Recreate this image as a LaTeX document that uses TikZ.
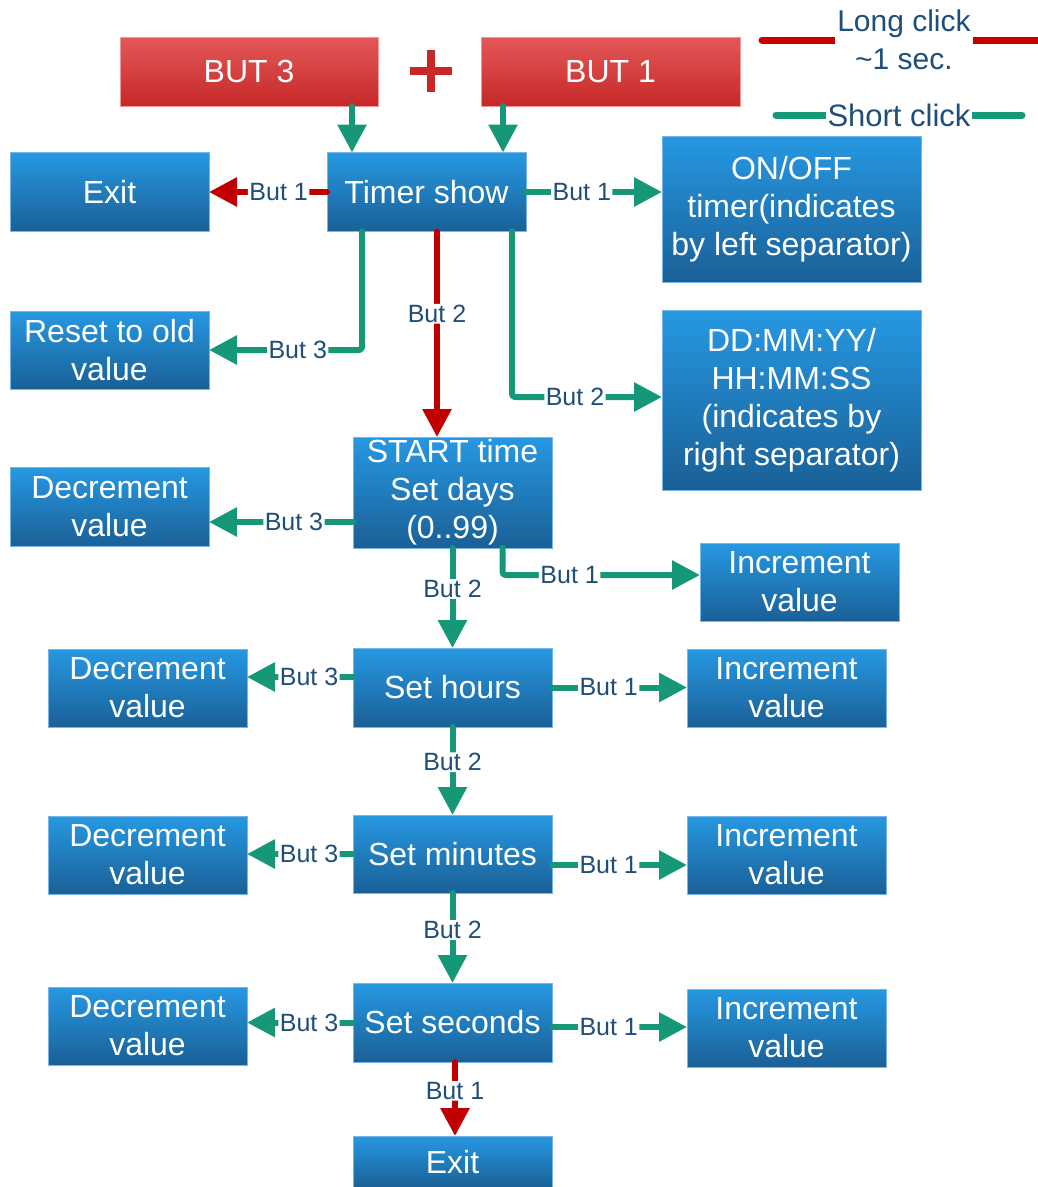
\documentclass[tikz,border=0pt]{standalone}
\usepackage{fontspec}
\setmainfont{Liberation Sans}
\usetikzlibrary{arrows.meta}
\definecolor{bluetop}{RGB}{38,152,226}
\definecolor{bluebot}{RGB}{26,96,150}
\definecolor{blueedge}{RGB}{120,182,232}
\definecolor{redtop}{RGB}{228,88,88}
\definecolor{redbot}{RGB}{198,40,40}
\definecolor{rededge}{RGB}{240,150,150}
\definecolor{greenc}{RGB}{22,152,120}
\definecolor{redc}{RGB}{192,0,0}
\definecolor{plusred}{RGB}{200,40,40}
\definecolor{lblblue}{RGB}{31,78,121}
\tikzset{
  box/.style={rectangle, inner sep=0pt, outer sep=0pt, minimum width=199pt, minimum height=78pt,
    top color=bluetop, bottom color=bluebot, draw=blueedge, line width=0.7pt,
    text=white, font=\fontsize{32}{38}\selectfont, align=center},
  redbox/.style={box, top color=redtop, bottom color=redbot, draw=rededge},
  lbl/.style={fill=white, inner xsep=1.5pt, inner ysep=1pt, text=lblblue, font=\fontsize{25}{28}\selectfont},
  garrow/.style={draw=greenc, line width=6pt, line cap=round, line join=round, rounded corners=3pt,
    -{Triangle[length=28pt,width=28pt]}},
  rarrow/.style={garrow, draw=redc},
  legline/.style={line width=7pt, line cap=round},
  legtext/.style={fill=white, inner xsep=2pt, inner ysep=0pt, text=lblblue, align=center,
    font=\fontsize{30}{38}\selectfont}
}
\begin{document}
\begin{tikzpicture}[x=1pt,y=-1pt]
\useasboundingbox (0,0) rectangle (1038,1187);

% top buttons
\node[redbox, minimum width=258pt, minimum height=69pt] (but3) at (249,71.5) {BUT 3};
\node[redbox, minimum width=259pt, minimum height=69pt] (but1) at (610.5,71.5) {BUT 1};
\draw[plusred, line width=8pt] (410,71) -- (452,71) (431,50) -- (431,92);

% legend
\coordinate (lr1) at (762,40);
\coordinate (lr2) at (1046,40);
\draw[legline, redc!80!red] (lr1) -- node[legtext] (legL) {Long click\\\textasciitilde1 sec.} (lr2);
\coordinate (lg1) at (776,115);
\coordinate (lg2) at (1022,115);
\draw[legline, greenc] (lg1) -- node[legtext, font=\fontsize{31}{38}\selectfont] (legS) {Short click} (lg2);

% boxes
\node[box, minimum height=79pt] (th) at (426.5,192) {Timer show};
\node[box, minimum height=79pt] (exit1) at (109.5,192) {Exit};
\node[box, minimum width=259pt, minimum height=146pt] (onoff) at (791.5,209) {ON/OFF\\timer(indicates\\by left separator)};
\node[box] (reset) at (109.5,350) {Reset to old\\value};
\node[box, minimum width=259pt, minimum height=180pt] (dd) at (791.5,400) {DD:MM:YY/\\HH:MM:SS\\(indicates by\\right separator)};
\node[box, minimum height=111pt] (start) at (452.5,492.5) {START time\\Set days\\(0..99)};
\node[box, minimum height=79pt] (dec1) at (109.5,507) {Decrement\\value};
\node[box] (inc1) at (799.5,582) {Increment\\value};
\node[box, minimum height=79pt] (sethours) at (452.5,687.5) {Set hours};
\node[box] (dec2) at (147.5,688) {Decrement\\value};
\node[box] (inc2) at (786.5,688) {Increment\\value};
\node[box] (setmin) at (452.5,854) {Set minutes};
\node[box] (dec3) at (147.5,855) {Decrement\\value};
\node[box] (inc3) at (786.5,855) {Increment\\value};
\node[box, minimum height=79pt] (setsec) at (452.5,1022.5) {Set seconds};
\node[box] (dec4) at (147.5,1026) {Decrement\\value};
\node[box] (inc4) at (786.5,1028) {Increment\\value};
\node[box, minimum height=52pt] (exit2) at (452.5,1162) {Exit};

% connectors
\draw[garrow] ([xshift=-26pt]but3.south east) -- ([xshift=-26pt]but3.south east |- th.north);
\draw[garrow] ([xshift=22pt]but1.south west) -- ([xshift=22pt]but1.south west |- th.north);

\draw[rarrow] (th.west) -- node[lbl, pos=0.41] {But 1} (exit1.east);
\draw[garrow] (th.east) -- node[lbl, pos=0.41] {But 1} (th.east -| onoff.west);
\draw[garrow] ([xshift=35pt]th.south west) |- node[lbl, pos=0.71] {But 3} (reset.east);
\draw[rarrow] ([xshift=110pt]th.south west) -- node[lbl, pos=0.40] {But 2} ([xshift=110pt]th.south west |- start.north);
\draw[garrow] ([xshift=-14pt]th.south east) |- node[lbl, pos=0.71] {But 2} ([yshift=3pt]dd.west);

\draw[garrow] ([yshift=-29.5pt]start.west) -- node[lbl, pos=0.41] {But 3} ([yshift=-29.5pt]start.west -| dec1.east);
\draw[garrow] (start.south) -- node[lbl, pos=0.41] {But 2} (sethours.north);
\draw[garrow] ([xshift=50pt]start.south) |- node[lbl, pos=0.67] {But 1} ([yshift=7pt]inc1.west);

\draw[garrow] ([yshift=10.5pt]sethours.west) -- node[lbl, pos=0.415] {But 3} ([yshift=10.5pt]sethours.west -| dec2.east);
\draw[garrow] (sethours.east) -- node[lbl, pos=0.42] {But 1} (sethours.east -| inc2.west);
\draw[garrow] (sethours.south) -- node[lbl, pos=0.40] {But 2} (setmin.north);

\draw[garrow] (setmin.west) -- node[lbl, pos=0.415] {But 3} (setmin.west -| dec3.east);
\draw[garrow] ([yshift=-11pt]setmin.east) -- node[lbl, pos=0.42] {But 1} ([yshift=-11pt]setmin.east -| inc3.west);
\draw[garrow] (setmin.south) -- node[lbl, pos=0.41] {But 2} (setsec.north);

\draw[garrow] (setsec.west) -- node[lbl, pos=0.415] {But 3} (setsec.west -| dec4.east);
\draw[garrow] ([yshift=-4.5pt]setsec.east) -- node[lbl, pos=0.42] {But 1} ([yshift=-4.5pt]setsec.east -| inc4.west);
\draw[rarrow] ([xshift=2.5pt]setsec.south) -- node[lbl, pos=0.39] {But 1} ([xshift=2.5pt]exit2.north);
\end{tikzpicture}
\end{document}
